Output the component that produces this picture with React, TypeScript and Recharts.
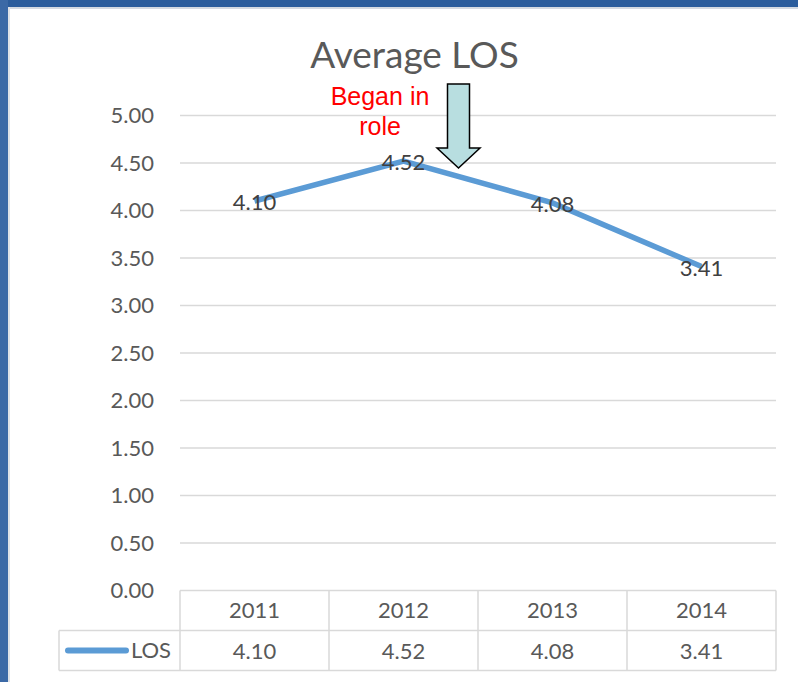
import React from "react";
import { CartesianGrid, LabelList, Line, LineChart, XAxis, YAxis } from "recharts";

const years = ["2011", "2012", "2013", "2014"];
const losValues = [4.1, 4.52, 4.08, 3.41];
const yTicks = [0, 0.5, 1, 1.5, 2, 2.5, 3, 3.5, 4, 4.5, 5];
const seriesName = "LOS";

const data = years.map((year, i) => ({ year, los: losValues[i] }));

const W = 798;
const H = 682;
const margin = { top: 115.5, right: 22, bottom: 0, left: 0 };
const xAxisHeight = 91.5;
const yAxisWidth = 180;
const plotRight = W - margin.right;
const band = (plotRight - yAxisWidth) / years.length;
const legendLeft = 59;

const font = "Lato, 'Open Sans', sans-serif";
const gray = "#595959";
const border = "#d9d9d9";
const blue = "#5b9bd5";

function TableTick(props: any) {
  const { x, y, payload } = props;
  const i = payload.index;
  const half = band / 2;
  return (
    <g>
      {i === 0 && (
        <g>
          <line x1={x - half} y1={y} x2={x - half} y2={y + 80} stroke={border} strokeWidth={1.5} />
          <line x1={legendLeft} y1={y + 40} x2={plotRight} y2={y + 40} stroke={border} strokeWidth={1.5} />
          <line x1={legendLeft} y1={y + 80} x2={plotRight} y2={y + 80} stroke={border} strokeWidth={1.5} />
          <line x1={legendLeft} y1={y + 40} x2={legendLeft} y2={y + 80} stroke={border} strokeWidth={1.5} />
          <line x1={68} y1={y + 60} x2={126} y2={y + 60} stroke={blue} strokeWidth={6} strokeLinecap="round" />
          <text x={171} y={y + 60} dy="0.36em" textAnchor="end" fontSize={22} fill={gray} fontFamily={font}>
            {seriesName}
          </text>
        </g>
      )}
      <line x1={x + half} y1={y} x2={x + half} y2={y + 80} stroke={border} strokeWidth={1.5} />
      <text x={x} y={y + 20} dy="0.36em" textAnchor="middle" fontSize={22} fill={gray} fontFamily={font}>
        {payload.value}
      </text>
      <text x={x} y={y + 61} dy="0.36em" textAnchor="middle" fontSize={22} fill={gray} fontFamily={font}>
        {losValues[i].toFixed(2)}
      </text>
    </g>
  );
}

function PointLabel(props: any) {
  const vb = props.viewBox || {};
  const cx = props.x ?? vb.x;
  const cy = props.y ?? vb.y;
  if (cx == null || cy == null) return null;
  return (
    <text x={cx} y={cy + 9} textAnchor="middle" fontSize={22} fill="#404040" fontFamily={font}>
      {Number(props.value).toFixed(2)}
    </text>
  );
}

export default function App() {
  return (
    <div style={{ position: "absolute", left: 0, top: 0, width: W, height: H, background: "#fff", overflow: "hidden" }}>
      <div style={{ position: "absolute", left: 0, top: 0, width: W, height: 7, background: "#2c5d9c" }} />
      <div style={{ position: "absolute", left: 8, top: 7, width: W - 8, height: 2, background: "#d5dae1" }} />
      <div style={{ position: "absolute", left: 0, top: 0, width: 8, height: H, background: "#3b69a6" }} />
      <div style={{ position: "absolute", left: 8, top: 7, width: 2, height: H - 7, background: "#dfe2e7" }} />
      <div style={{ position: "absolute", left: 0, top: 0 }}>
        <LineChart width={W} height={H} data={data} margin={margin}>
          <CartesianGrid horizontal vertical={false} stroke={border} strokeWidth={1.5} />
          <YAxis
            domain={[0, 5]}
            ticks={yTicks}
            width={yAxisWidth}
            axisLine={false}
            tickLine={false}
            tickSize={0}
            tickMargin={26}
            tickFormatter={(v: number) => v.toFixed(2)}
            tick={{ fontSize: 22, fill: gray, fontFamily: font }}
          />
          <XAxis
            dataKey="year"
            height={xAxisHeight}
            padding={{ left: band / 2, right: band / 2 }}
            axisLine={false}
            tickLine={false}
            tickSize={0}
            tickMargin={0}
            interval={0}
            tick={<TableTick />}
          />
          <Line
            type="linear"
            dataKey="los"
            name={seriesName}
            stroke={blue}
            strokeWidth={5.5}
            dot={false}
            isAnimationActive={false}
          >
            <LabelList dataKey="los" content={<PointLabel />} />
          </Line>
        </LineChart>
      </div>
      <svg width={W} height={H} style={{ position: "absolute", left: 0, top: 0, pointerEvents: "none" }}>
        <text x={414.5} y={68} textAnchor="middle" fontSize={37} fill={gray} fontFamily={font}>
          Average LOS
        </text>
        <text x={380} y={105} textAnchor="middle" fontSize={25} fill="#ff0000" fontFamily="'Liberation Sans', Arial, sans-serif">
          Began in
        </text>
        <text x={380} y={135} textAnchor="middle" fontSize={25} fill="#ff0000" fontFamily="'Liberation Sans', Arial, sans-serif">
          role
        </text>
        <polygon
          points="447.5,84 469.5,84 469.5,148 480,148 458.5,168 437,148 447.5,148"
          fill="#b8dee0"
          stroke="#000"
          strokeWidth={1.5}
        />
      </svg>
    </div>
  );
}
